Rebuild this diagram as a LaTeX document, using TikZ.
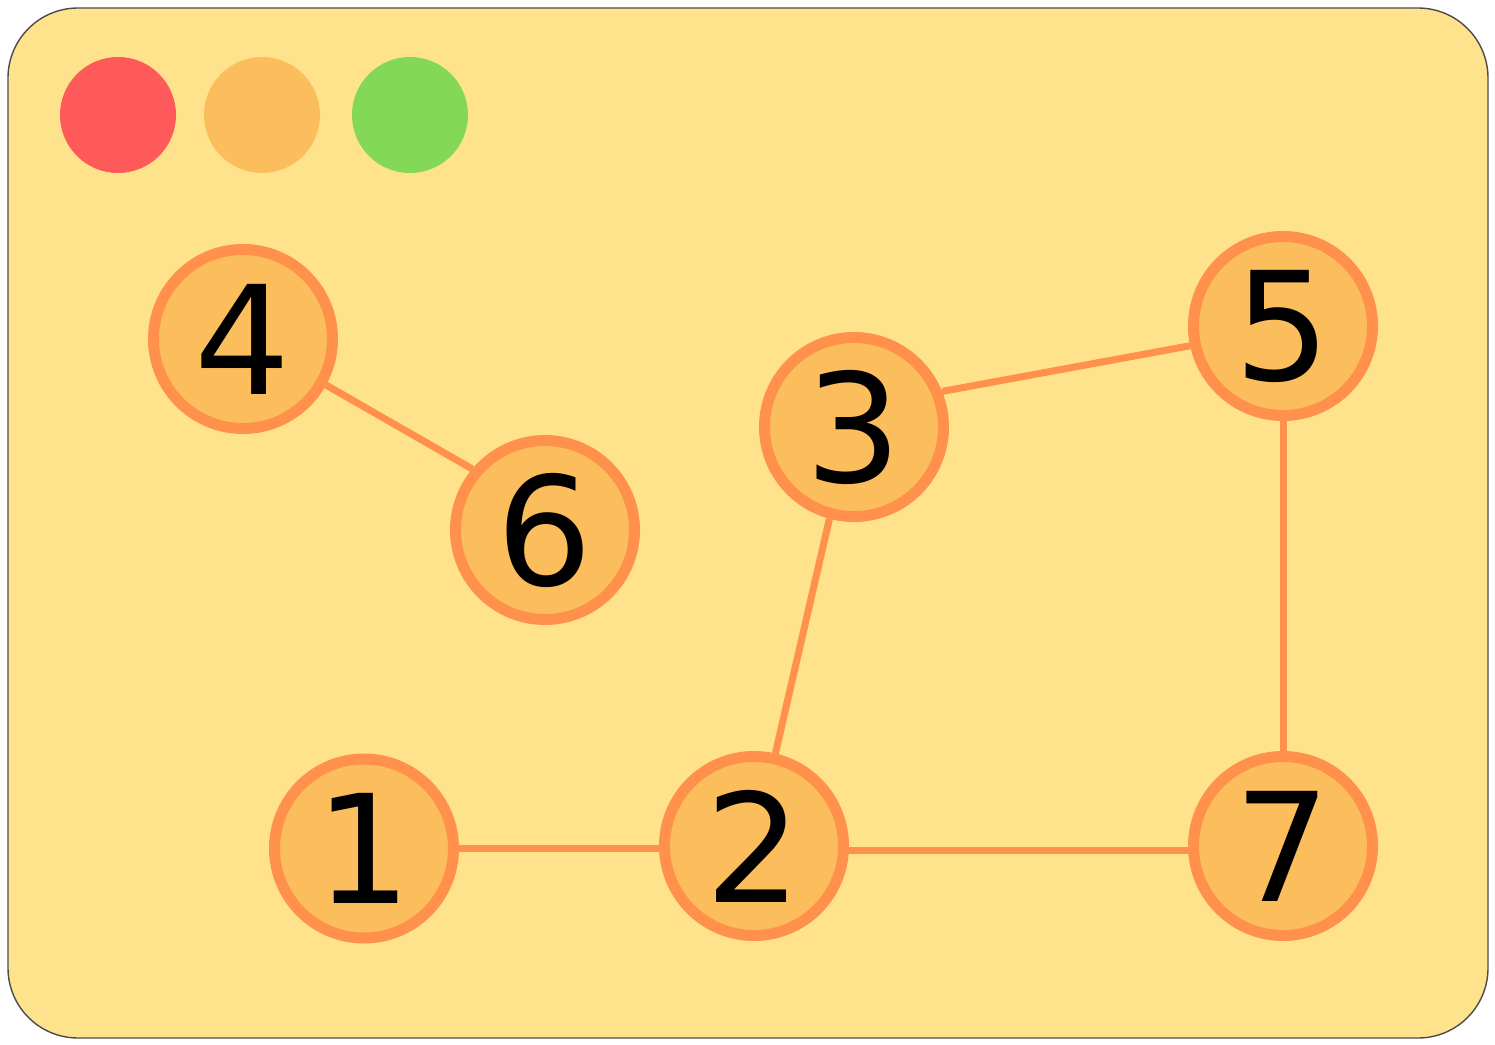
\documentclass[tikz,border=0pt]{standalone}
\usepackage{fontspec}
\setmainfont{DejaVu Sans}
\usetikzlibrary{backgrounds}
\definecolor{winbg}{HTML}{FEE38C}
\definecolor{nodefill}{HTML}{FCBE5C}
\definecolor{nodeline}{HTML}{FF914D}
\definecolor{btnred}{HTML}{FF5A5A}
\definecolor{btngreen}{HTML}{83D957}
\tikzset{
  vertex/.style={circle, draw=nodeline, fill=nodefill, line width=0.11cm,
    minimum size=1.79cm, inner sep=0pt, font=\fontsize{43}{43}\selectfont},
  edge/.style={draw=nodeline, line width=0.07cm},
  btn/.style={circle, minimum size=1.16cm, inner sep=0pt}
}
\begin{document}
\begin{tikzpicture}
            \useasboundingbox (0,0) rectangle (14.95,10.44);
            \node[btn, fill=btnred] (close) at (1.18,9.29) {};
            \node[btn, fill=nodefill] (min) at (2.62,9.29) {};
            \node[btn, fill=btngreen] (max) at (4.10,9.29) {};
            \node[vertex] (n4) at (2.43,7.05) {4};
            \node[vertex] (n6) at (5.45,5.14) {6};
            \node[vertex] (n3) at (8.54,6.17) {3};
            \node[vertex] (n5) at (12.83,7.18) {5};
            \node[vertex] (n1) at (3.64,1.955) {1};
            \node[vertex] (n2) at (7.54,1.98) {2};
            \node[vertex] (n7) at (12.83,1.98) {7};
            \begin{pgfonlayer}{background}
            \draw[fill=winbg, draw=black!70, line width=0.4pt, rounded corners=0.7cm] (0.08,0.06) rectangle (14.88,10.36);
            \draw[edge] (n4.-29.5) to (n6.140);
            \draw[edge] (n3.22) to (n5.192);
            \draw[edge] (n3.-105) to (n2.77);
            \draw[edge] (n5) to (n7);
            \draw[edge] (n1) to (n1 -| n2);
            \draw[edge] ([yshift=-0.04cm]n2.center) to ([yshift=-0.04cm]n7.center);
            \end{pgfonlayer}
        \end{tikzpicture}
\end{document}
